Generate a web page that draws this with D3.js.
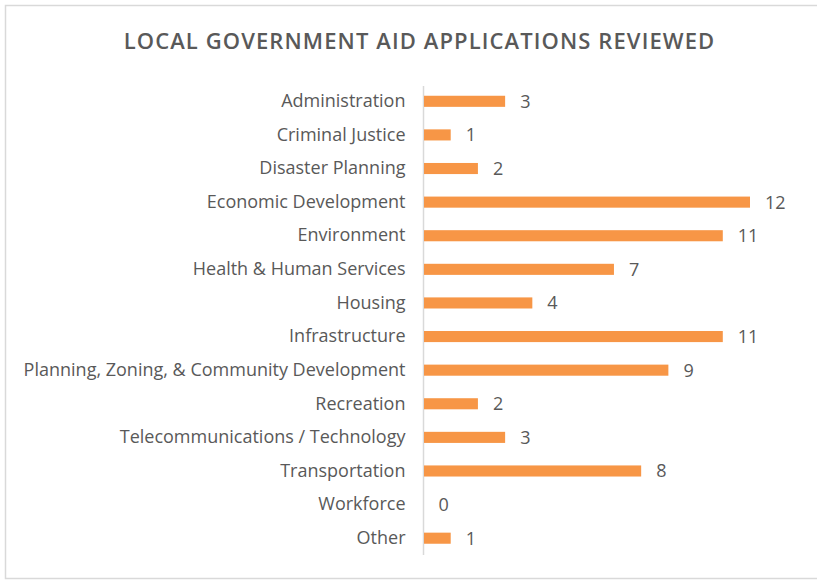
<!DOCTYPE html>
<html><head><meta charset="utf-8">
<script src="https://cdn.jsdelivr.net/npm/d3@7"></script>
<style>
body{margin:0;background:#fff;}
svg{display:block;}
text{font-family:"Open Sans",sans-serif;}
</style></head>
<body><svg id="c" width="817" height="581"></svg>
<script>
const title = "LOCAL GOVERNMENT AID APPLICATIONS REVIEWED";
const categories = ["Administration","Criminal Justice","Disaster Planning","Economic Development","Environment","Health & Human Services","Housing","Infrastructure","Planning, Zoning, & Community Development","Recreation","Telecommunications / Technology","Transportation","Workforce","Other"];
const values = [3,1,2,12,11,7,4,11,9,2,3,8,0,1];

const svg = d3.select("#c");
const textColor = "#595959";
const barColor = "#F79646";

svg.append("rect").attr("x",5.5).attr("y",5.5).attr("width",830).attr("height",573)
  .attr("fill","#fff").attr("stroke","#D9D9D9").attr("stroke-width",1.5);

svg.append("text").attr("x",419.5).attr("y",49).attr("text-anchor","middle")
  .attr("fill",textColor).style("font-size","22px").style("font-weight","600")
  .style("letter-spacing","1.1px")
  .text(title);

const x0 = 423.5;
const x = d3.scaleLinear().domain([0,12]).range([x0, 750]);
const y = d3.scaleBand().domain(categories).range([84.5, 555]).paddingInner(0.67).paddingOuter(0.335);

svg.append("line").attr("x1",x0).attr("x2",x0).attr("y1",86).attr("y2",555)
  .attr("stroke","#D9D9D9").attr("stroke-width",1.5);

svg.selectAll("rect.bar").data(categories).join("rect").attr("class","bar")
  .attr("x",x(0)+0.5).attr("y",d=>y(d))
  .attr("width",(d,i)=>Math.max(0,x(values[i])-x(0)-0.5)).attr("height",y.bandwidth())
  .attr("fill",barColor);

const yAxis = d3.axisLeft(y).tickSize(0).tickPadding(18);
const ga = svg.append("g").attr("transform",`translate(${x0},0)`).call(yAxis);
ga.select(".domain").remove();
ga.selectAll("text").attr("fill",textColor).style("font-size","18px").style("font-family","'Open Sans',sans-serif");

svg.selectAll("text.val").data(categories).join("text").attr("class","val")
  .attr("x",(d,i)=>x(values[i])+15).attr("y",d=>y(d)+y.bandwidth()/2).attr("dy","0.36em")
  .attr("fill",textColor).style("font-size","18px")
  .text((d,i)=>values[i]);
</script></body></html>
